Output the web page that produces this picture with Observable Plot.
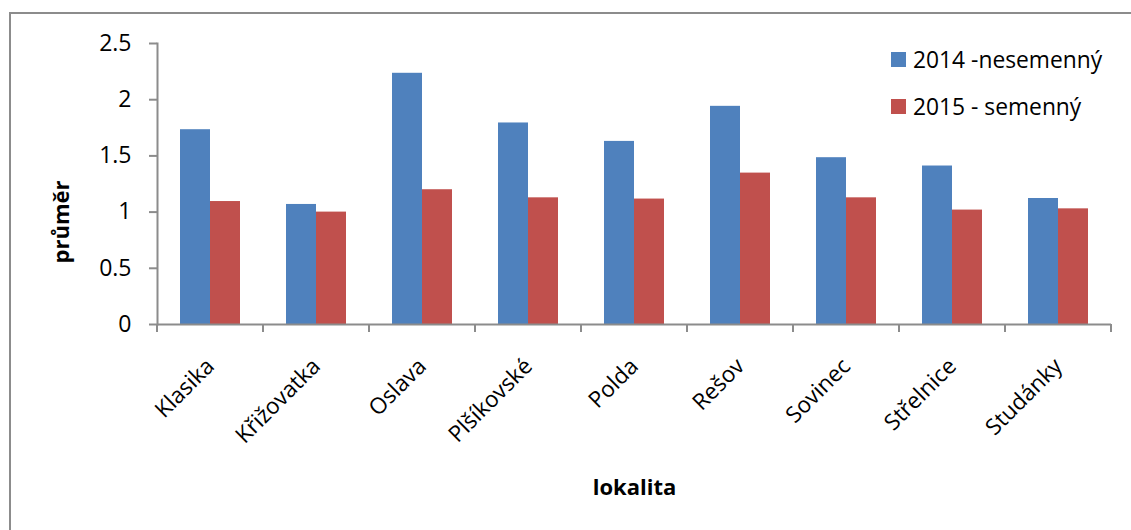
<!DOCTYPE html>
<html>
<head>
<meta charset="utf-8">
<script src="https://cdn.jsdelivr.net/npm/d3@7"></script>
<script src="https://cdn.jsdelivr.net/npm/@observablehq/plot@0.6"></script>
<style>
  body { margin: 0; background: #fff; }
  #chart { position: relative; width: 1131px; height: 530px; overflow: hidden; font-family: "Open Sans", sans-serif; }
  #chart svg { position: absolute; left: 0; top: 0; }
  #border { position: absolute; left: 9px; top: 12px; width: 1300px; height: 700px;
            border-left: 2px solid #8c8c8c; border-top: 2px solid #8c8c8c; }
  #legend { position: absolute; left: 891px; top: 36px; font-size: 22.8px; color: #000; }
  #legend .item { display: flex; align-items: center; height: 47px; white-space: pre; }
  #legend .sw { width: 15px; height: 15px; margin-right: 7px; flex: none; }
</style>
</head>
<body>
<div id="chart"></div>
<script>
// Average values per locality for the two seasons
const localities = ["Klasika", "Křižovatka", "Oslava", "Plšíkovské", "Polda", "Rešov", "Sovinec", "Střelnice", "Studánky"];
const seriesNames = ["2014 -nesemenný", "2015 - semenný"];
const values2014 = [1.733, 1.068, 2.235, 1.793, 1.629, 1.941, 1.484, 1.41, 1.121];
const values2015 = [1.094, 1.0, 1.199, 1.127, 1.116, 1.347, 1.127, 1.018, 1.029];
const seriesColors = ["#4F81BD", "#C0504D"];
const yTicks = [0, 0.5, 1, 1.5, 2, 2.5];

const axisGray = "#8c8c8c";

const data = localities.flatMap((loc, i) => [
  {loc, series: seriesNames[0], value: values2014[i]},
  {loc, series: seriesNames[1], value: values2015[i]}
]);

// Category separator ticks below the baseline, at both edges of each facet
function boundaryTicks(index, scales) {
  const [r0, r1] = scales.x.range();
  const y0 = scales.y(0);
  const g = d3.create("svg:g").attr("stroke", axisGray).attr("stroke-width", 2);
  for (const x of [r0, r1]) {
    g.append("line").attr("x1", x).attr("x2", x).attr("y1", y0).attr("y2", y0 + 8);
  }
  return g.node();
}

const chart = Plot.plot({
  width: 1131,
  height: 530,
  marginLeft: 154,
  marginRight: 18,
  marginTop: 43,
  marginBottom: 206,
  style: {fontFamily: "'Open Sans', sans-serif", fontSize: "23px", color: "#000", background: "transparent", overflow: "visible"},
  fx: {domain: localities, padding: 0, label: null, axis: null},
  x: {domain: seriesNames, paddingInner: 0, paddingOuter: 0.75, axis: null},
  y: {domain: [0, 2.5], axis: null},
  color: {domain: seriesNames, range: seriesColors},
  marks: [
    Plot.barY(data, {fx: "loc", x: "series", y: "value", fill: "series"}),
    Plot.ruleY([0], {stroke: axisGray, strokeWidth: 2}),
    boundaryTicks,
    Plot.frame({anchor: "left", facetAnchor: "left", stroke: axisGray, strokeWidth: 2}),
    Plot.axisY({ticks: yTicks, tickSize: 8, tickPadding: 18, tickFormat: d => String(d),
                stroke: axisGray, strokeWidth: 2, strokeOpacity: 1, label: null, fontSize: 23, fill: "#000"}),
    Plot.axisFx({anchor: "bottom", tickSize: 0, tickRotate: -45, tickPadding: 38, label: null, fontSize: 22.5, fill: "#000"}),
    Plot.text(["průměr"], {facet: "super", frameAnchor: "left", textAnchor: "middle", lineAnchor: "middle",
                          rotate: -90, dx: -96, dy: 38, fontWeight: "bold", fontSize: 22, fill: "#000"}),
    Plot.text(["lokalita"], {facet: "super", frameAnchor: "bottom", textAnchor: "middle", dy: 170,
                            fontWeight: "bold", fontSize: 22, fill: "#000"})
  ]
});

const root = document.getElementById("chart");
root.appendChild(chart);

const border = document.createElement("div");
border.id = "border";
root.appendChild(border);

// Legend inside the chart area, top right
const legend = document.createElement("div");
legend.id = "legend";
seriesNames.forEach((name, i) => {
  const item = document.createElement("div");
  item.className = "item";
  const sw = document.createElement("span");
  sw.className = "sw";
  sw.style.background = seriesColors[i];
  const label = document.createElement("span");
  label.textContent = name;
  item.append(sw, label);
  legend.appendChild(item);
});
root.appendChild(legend);
</script>
</body>
</html>
